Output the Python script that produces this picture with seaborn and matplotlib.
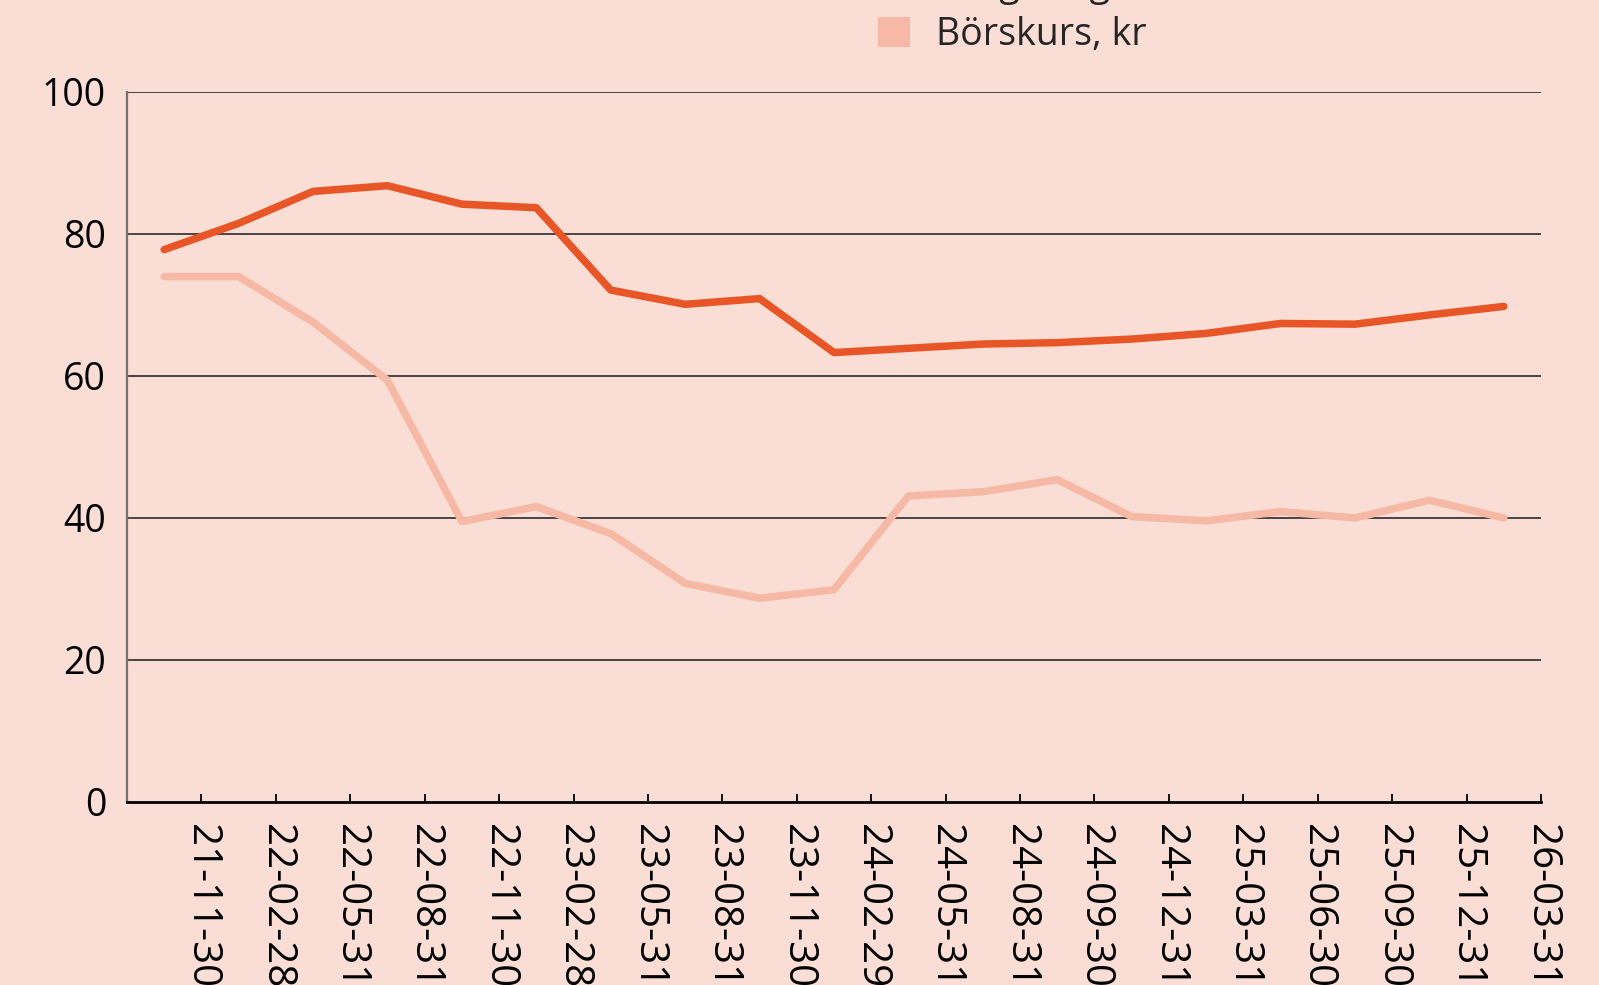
import numpy as np
import pandas as pd
import matplotlib
matplotlib.use("Agg")
import matplotlib.pyplot as plt
from matplotlib.patches import Patch
import seaborn as sns

# Report dates (yy-mm-dd)
dates = ["21-11-30", "22-02-28", "22-05-31", "22-08-31", "22-11-30", "23-02-28",
         "23-05-31", "23-08-31", "23-11-30", "24-02-29", "24-05-31", "24-08-31",
         "24-09-30", "24-12-31", "25-03-31", "25-06-30", "25-09-30", "25-12-31",
         "26-03-31"]

substansvarde = [77.8, 81.5, 86.0, 86.8, 84.2, 83.7, 72.1, 70.1, 70.9, 63.3,
                 63.9, 64.5, 64.7, 65.2, 66.0, 67.4, 67.3, 68.6, 69.8]
borskurs = [74.0, 74.0, 67.6, 59.4, 39.5, 41.6, 37.8, 30.8, 28.7, 29.9,
            43.1, 43.7, 45.4, 40.2, 39.6, 40.9, 40.0, 42.5, 40.0]

series_names = ["Långsiktigt substansvärde", "Börskurs, kr"]
series_colors = ["#E85627", "#F5B9A6"]
y_ticks = [0, 20, 40, 60, 80, 100]

bg = "#FADDD4"

sns.set_theme(style="white")
plt.rcParams["font.family"] = ["Open Sans", "DejaVu Sans"]

n = len(dates)
df = pd.DataFrame({
    "pos": list(range(n)) * 2,
    "value": substansvarde + borskurs,
    "serie": [series_names[0]] * n + [series_names[1]] * n,
})

fig = plt.figure(figsize=(15.99, 9.85), dpi=100, facecolor=bg)
ax = fig.add_axes([127 / 1599, 1 - 802 / 985, (1541 - 127) / 1599, (802 - 92) / 985])
ax.set_facecolor(bg)

# Horizontal grid lines
for yv in y_ticks[1:]:
    ax.axhline(yv, color="#2b2b2b", linewidth=1.2, zorder=1)

sns.lineplot(data=df, x="pos", y="value", hue="serie", hue_order=series_names[::-1],
             palette=dict(zip(series_names, series_colors)), linewidth=5.4,
             legend=False, ax=ax, zorder=3)
for line in ax.get_lines():
    line.set_solid_capstyle("round")

ax.set_xlim(-0.5, n - 0.5)
ax.set_ylim(0, 100)
ax.set_xlabel("")
ax.set_ylabel("")

ax.set_yticks(y_ticks)
ax.set_yticklabels([str(v) for v in y_ticks])
ax.tick_params(axis="y", length=0, pad=15, labelsize=27, labelcolor="black")

ax.set_xticks(np.arange(n) + 0.5)
ax.set_xticklabels(dates, rotation=-90, ha="center", va="top")
ax.tick_params(axis="x", direction="in", length=6, width=1.3, color="black",
               pad=16, labelsize=29, labelcolor="black", bottom=True)

for side in ["top", "right"]:
    ax.spines[side].set_visible(False)
ax.spines["bottom"].set_color("black")
ax.spines["bottom"].set_linewidth(2)
ax.spines["left"].set_color("#7a7070")
ax.spines["left"].set_linewidth(1.6)

handles = [Patch(facecolor=c, edgecolor="none", label=s)
           for s, c in zip(series_names, series_colors)]
fig.legend(handles=handles, loc="lower left",
           bbox_to_anchor=(878 / 1599, 1 - 54 / 985), frameon=False,
           fontsize=27, handlelength=0.85, handleheight=0.85,
           handletextpad=0.7, labelspacing=0.3, borderpad=0, borderaxespad=0)

fig.savefig("out.png", dpi=100, facecolor=bg)
